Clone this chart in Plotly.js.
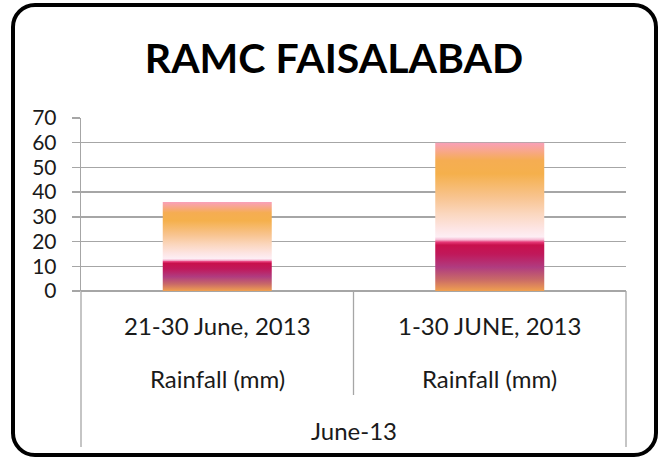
<!DOCTYPE html>
<html>
<head>
<meta charset="utf-8">
<script src="https://cdn.plot.ly/plotly-3.0.1.min.js"></script>
<style>
  html, body { margin: 0; padding: 0; background: #fff; }
  #wrap { position: relative; width: 664px; height: 460px; }
  #chart { position: absolute; left: 0; top: 0; width: 664px; height: 460px; }
  #frame { position: absolute; left: 11px; top: 3px; width: 647px; height: 454px;
           border: 4px solid #000; border-radius: 24px; box-sizing: border-box; pointer-events: none; }
</style>
</head>
<body>
<div id="wrap">
  <div id="chart"></div>
  <div id="frame"></div>
</div>
<script>
// ---- data ----
const periods = ["21-30 June, 2013", "1-30 JUNE, 2013"];
const seriesLabels = ["Rainfall (mm)", "Rainfall (mm)"];
const monthGroup = "June-13";
const rainfall = [36, 60];
const yTickVals = [0, 10, 20, 30, 40, 50, 60, 70];
const chartTitle = "RAMC FAISALABAD";

// ---- style ----
const FONT = "Lato, 'Liberation Sans', sans-serif";
const GRID = "#a6a6a6";

const trace = {
  type: "bar",
  x: periods,
  y: rainfall,
  marker: { color: "#f5b04a", line: { width: 0 } },
  hoverinfo: "none"
};

const annotations = [];
periods.forEach((p, i) => {
  annotations.push({ x: p, xref: "x", y: -0.2, yref: "paper", text: p, showarrow: false,
    xanchor: "center", yanchor: "middle", font: { family: FONT, size: 24, color: "#1a1a1a" } });
  annotations.push({ x: p, xref: "x", y: -0.507, yref: "paper", text: seriesLabels[i], showarrow: false,
    xanchor: "center", yanchor: "middle", font: { family: FONT, size: 24, color: "#1a1a1a" } });
});
annotations.push({ x: 0.5, xref: "paper", y: -0.808, yref: "paper", text: monthGroup, showarrow: false,
  xanchor: "center", yanchor: "middle", font: { family: FONT, size: 24, color: "#1a1a1a" } });

const lineStyle = { color: GRID, width: 1.3 };
const shapes = [
  { type: "line", xref: "paper", yref: "paper", x0: 0, x1: 0, y0: 0, y1: -0.902, line: lineStyle },
  { type: "line", xref: "paper", yref: "paper", x0: 1, x1: 1, y0: 0, y1: -0.902, line: lineStyle },
  { type: "line", xref: "paper", yref: "paper", x0: 0.5, x1: 0.5, y0: 0, y1: -0.601, line: lineStyle }
];

const layout = {
  width: 664, height: 460,
  margin: { l: 81, r: 38, t: 118, b: 169 },
  paper_bgcolor: "rgba(0,0,0,0)",
  plot_bgcolor: "rgba(0,0,0,0)",
  showlegend: false,
  bargap: 0.6,
  title: { text: "<b>" + chartTitle + "</b>", x: 0.503, xanchor: "center", xref: "container",
           y: 0.873, yref: "container", yanchor: "middle",
           font: { family: FONT, size: 41, color: "#000" } },
  xaxis: {
    type: "category",
    showticklabels: false,
    showgrid: false,
    zeroline: false,
    showline: false,
    ticks: "",
    fixedrange: true
  },
  yaxis: {
    range: [0, 70],
    tickvals: yTickVals,
    ticktext: yTickVals.map(String),
    showgrid: true,
    gridcolor: GRID,
    gridwidth: 1.3,
    zeroline: true,
    zerolinecolor: GRID,
    zerolinewidth: 1.3,
    showline: true,
    linecolor: GRID,
    linewidth: 1.3,
    ticks: "outside",
    ticklen: 8,
    tickcolor: GRID,
    tickwidth: 1.3,
    ticklabelstandoff: 11,
    tickfont: { family: FONT, size: 21, color: "#1a1a1a" },
    fixedrange: true
  },
  annotations: annotations,
  shapes: shapes
};

const stops = [
  [0.00, "#f9a0b8"], [0.05, "#f8a690"], [0.12, "#f5ad52"], [0.21, "#f5b04c"],
  [0.37, "#f8c490"], [0.48, "#fbd7bf"], [0.58, "#fde5e4"], [0.635, "#fdeef4"],
  [0.655, "#f6b8d2"], [0.67, "#e63a78"], [0.69, "#c8104c"], [0.75, "#c0185a"],
  [0.84, "#b03c80"], [0.92, "#c86868"], [1.00, "#f0a050"]
];

Plotly.newPlot("chart", [trace], layout, { displayModeBar: false, staticPlot: true }).then(gd => {
  const NS = "http://www.w3.org/2000/svg";
  const svg = gd.querySelector("svg.main-svg");
  let defs = svg.querySelector("defs");
  if (!defs) { defs = document.createElementNS(NS, "defs"); svg.insertBefore(defs, svg.firstChild); }
  const lg = document.createElementNS(NS, "linearGradient");
  lg.setAttribute("id", "barFire");
  lg.setAttribute("x1", "0"); lg.setAttribute("y1", "0");
  lg.setAttribute("x2", "0"); lg.setAttribute("y2", "1");
  stops.forEach(([o, c]) => {
    const s = document.createElementNS(NS, "stop");
    s.setAttribute("offset", o);
    s.setAttribute("stop-color", c);
    lg.appendChild(s);
  });
  defs.appendChild(lg);
  gd.querySelectorAll(".barlayer .point path").forEach(p => {
    p.style.fill = "url(#barFire)";
  });
});
</script>
</body>
</html>
